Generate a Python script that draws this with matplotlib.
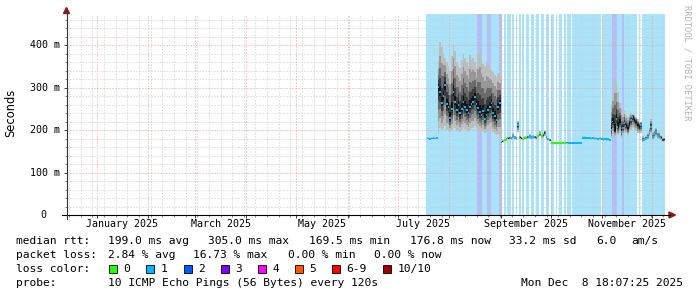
import matplotlib
matplotlib.use("Agg")
import matplotlib.pyplot as plt
import matplotlib.dates as mdates
import matplotlib.transforms as mtransforms
from matplotlib.patches import Rectangle, Polygon
from matplotlib.lines import Line2D
import numpy as np
import datetime as dt

# ---------------- data ----------------
data_start = dt.datetime(2025, 7, 18)   # first daily sample
view_start = dt.datetime(2024, 12, 14, 4, 7)
view_end = dt.datetime(2025, 12, 8, 18, 7)

# median rtt (ms), one value per day
median_ms = [
    180, 180, 179, 180, 181, 180, 181,
    302, 290, 263, 280, 306, 262, 255, 228, 250, 290, 265, 247, 258, 239,
    250, 267, 255, 247, 240, 255, 262, 267, 278, 262, 252, 242, 235, 245,
    227, 236, 247, 255, 263, 239, 232, 223, 255, 263,
    172, 173, 176, 178, 180, 181, 180, 186, 182, 180, 212, 182, 180, 179,
    181, 180, 183, 185, 182, 184, 183, 181, 186, 192, 185, 188, 194, 184,
    178, 176,
    170, 170, 170, 170, 170, 170, 170, 170, 170, 170, 170, 170, 170, 170,
    170, 170, 170, 170, 170,
    182, 182, 181, 181, 181, 180, 181, 180, 180, 179, 180, 179, 178, 179,
    178, 178, 176,
    200, 220, 200, 227, 208, 220, 196, 205, 216, 210, 204, 215, 223, 231,
    225, 220, 212, 208, 212, 176, 178, 180, 184, 195, 208, 184, 190, 196,
    186, 188, 182, 176, 178,
]
# slowest ping of the day (ms)
ping_max_ms = [
    183, 183, 182, 183, 184, 183, 184,
    360, 408, 395, 380, 370, 360, 350, 340, 375, 400, 385, 360, 350, 345,
    365, 380, 370, 360, 350, 377, 365, 370, 360, 345, 380, 388, 370, 355,
    350, 361, 355, 345, 340, 337, 330, 325, 335, 330,
    176, 177, 180, 182, 184, 185, 184, 192, 186, 184, 222, 186, 184, 183,
    185, 184, 187, 190, 186, 188, 187, 185, 190, 198, 189, 192, 198, 188,
    182, 180,
    172, 172, 172, 172, 172, 172, 172, 172, 172, 172, 172, 172, 172, 172,
    172, 172, 172, 172, 172,
    185, 185, 184, 184, 184, 183, 184, 183, 183, 182, 183, 182, 181, 182,
    181, 181, 179,
    260, 286, 322, 310, 290, 263, 250, 240, 245, 235, 230, 238, 240, 238,
    235, 230, 225, 220, 220, 185, 182, 185, 192, 205, 227, 195, 200, 205,
    195, 195, 188, 182, 182,
]
# fastest ping of the day (ms)
ping_min_ms = [
    178, 178, 178, 178, 178, 178, 178,
    190, 205, 200, 205, 210, 200, 198, 195, 200, 210, 205, 198, 200, 196,
    200, 205, 202, 198, 195, 200, 205, 205, 210, 205, 200, 196, 193, 198,
    192, 195, 198, 200, 202, 195, 190, 188, 190, 185,
    170, 171, 173, 175, 177, 178, 177, 180, 178, 177, 195, 178, 177, 176,
    178, 177, 179, 180, 178, 180, 179, 178, 181, 185, 180, 182, 186, 180,
    175, 173,
    168, 168, 168, 168, 168, 168, 168, 168, 168, 168, 168, 168, 168, 168,
    168, 168, 168, 168, 168,
    179, 179, 178, 178, 178, 177, 178, 177, 177, 176, 177, 176, 175, 176,
    175, 175, 173,
    182, 190, 185, 192, 188, 192, 182, 188, 195, 192, 188, 196, 200, 205,
    200, 198, 192, 190, 192, 172, 174, 176, 178, 185, 192, 178, 182, 186,
    180, 180, 177, 172, 174,
]
# highest packet loss of the day (pings of 10) -> background bars
loss_max = [
    1, 1, 1, 1, 1, 1, 1,
    1, 1, 1, 1, 1, 1, 1, 1, 1, 1, 1, 1, 1, 1,
    1, 1, 1, 1, 1, 1, 1, 1, 1, 1, 2, 2, 2, 1,
    1, 1, 2, 2, 1, 1, 1, 1, 1, 2,
    2, 0, 1, 0, 1, 1, 0, 1, 0, 1, 0, 1, 0, 1,
    0, 1, 1, 0, 1, 1, 0, 1, 1, 0, 1, 1, 0, 1,
    1, 0,
    1, 1, 0, 1, 0, 1, 1, 0, 1, 0, 1, 1, 0, 1,
    1, 1, 1, 1, 1,
    1, 1, 1, 1, 1, 1, 1, 1, 1, 1, 1, 0, 1, 1,
    1, 1, 1,
    1, 2, 2, 2, 1, 1, 1, 2, 1, 1, 1, 1, 1, 1,
    1, 1, 0, 1, 0, 1, 1, 1, 1, 1, 1, 1, 1, 1,
    1, 1, 1, 1, 1,
]
# average packet loss of the day -> colour of the median mark
loss_avg = [
    1, 1, 1, 1, 1, 1, 1,
    1, 1, 1, 1, 1, 1, 1, 1, 1, 1, 1, 1, 1, 1,
    1, 1, 1, 1, 1, 1, 1, 1, 1, 1, 1, 1, 1, 1,
    1, 1, 1, 1, 1, 1, 1, 1, 1, 1,
    1, 0, 0, 0, 0, 1, 1, 1, 1, 1, 1, 1, 0, 0,
    0, 0, 1, 1, 1, 1, 1, 0, 0, 0, 0, 0, 1, 1,
    1, 1,
    0, 0, 0, 0, 0, 0, 0, 0, 0, 0, 1, 1, 1, 1,
    1, 1, 1, 1, 1,
    1, 1, 1, 1, 1, 1, 1, 1, 1, 1, 1, 1, 1, 1,
    1, 1, 1,
    1, 1, 2, 1, 1, 2, 1, 1, 1, 1, 2, 1, 1, 1,
    2, 1, 0, 1, 1, 1, 1, 1, 1, 1, 1, 1, 1, 1,
    1, 1, 1, 0, 1,
]

y_ticks = [0, 100, 200, 300, 400]
y_tick_labels = ["0", "100 m", "200 m", "300 m", "400 m"]
month_labels = ["January 2025", "March 2025", "May 2025", "July 2025",
                "September 2025", "November 2025"]
month_label_dates = [(2025, 1), (2025, 3), (2025, 5), (2025, 7), (2025, 9), (2025, 11)]

loss_colors = ["#26ff00", "#00b8ff", "#0059ff", "#7e00ff", "#ff00ff",
               "#ff5500", "#ff0000", "#a10000"]
loss_names = ["0", "1", "2", "3", "4", "5", "6-9", "10/10"]
loss_bg_colors = {0: "#ffffff", 1: "#a9e3f9", 2: "#b4bdf7"}

stats_rtt = ["199.0 ms avg", "305.0 ms max", "169.5 ms min", "176.8 ms now",
             "33.2 ms sd", "6.0", "am/s"]
stats_loss = ["2.84 % avg", "16.73 % max", "0.00 % min", "0.00 % now"]

# ---------------- figure ----------------
W, H = 697, 297
L, R, T, B = 67, 665, 14, 215
fig = plt.figure(figsize=(W / 100, H / 100), dpi=100)
ax = fig.add_axes([L / W, 1 - B / H, (R - L) / W, (B - T) / H])
YMAX = 473
ax.set_xlim(mdates.date2num(view_start), mdates.date2num(view_end))
ax.set_ylim(0, YMAX)
for s in ax.spines.values():
    s.set_visible(False)

n = len(median_ms)
day0 = mdates.date2num(data_start)
x_edge = day0 + np.arange(n)
x_mid = x_edge + 0.5
med = np.array(median_ms, float)
hi = np.array(ping_max_ms, float)
lo = np.array(ping_min_ms, float)
lavg = np.array(loss_avg)

# loss background bars
bar_cols = [loss_bg_colors[v] for v in loss_max]
ax.bar(x_edge, YMAX, width=1.0, align="edge", color=bar_cols, linewidth=0, zorder=0.2)

# grid
ax.set_axisbelow(True)
months = [mdates.date2num(dt.datetime(2024 + (m > 12), (m - 1) % 12 + 1, 1)) for m in range(13, 25)]
weeks = []
wk = dt.datetime(2024, 12, 15, 12)
while wk < view_end:
    weeks.append(mdates.date2num(wk))
    wk += dt.timedelta(days=7)
ax.set_xticks(months)
ax.set_xticks(weeks, minor=True)
ax.set_xticklabels([])
ax.set_yticks(y_ticks)
ax.set_yticks(np.arange(0, YMAX, 20), minor=True)
ax.set_yticklabels([])
ax.grid(which="minor", color="#cccccc", linestyle=(0, (1, 2)), linewidth=0.72)
ax.grid(which="major", color="#eaa0a0", linestyle=(0, (1, 2)), linewidth=0.72)
ax.tick_params(which="major", direction="out", length=2.2, width=0.72, color="#444444")
ax.tick_params(which="minor", direction="out", length=1.2, width=0.72, color="#888888")

# smoke
bands = [(1.0, "#bdbdbd"), (0.72, "#979797"), (0.48, "#6a6a6a"), (0.28, "#3c3c3c"), (0.12, "#111111")]
for f, c in bands:
    ax.fill_between(x_mid, med - f * (med - lo), med + f * (hi - med),
                    step="mid", color=c, linewidth=0, zorder=2)
# median marks coloured by loss
dh = 2.3
for k in range(len(loss_colors)):
    m = lavg == k
    if m.any():
        ax.fill_between(x_mid, med - dh, med + dh, where=m, step="mid",
                        color=loss_colors[k], linewidth=0, zorder=3)

mono = "DejaVu Sans Mono"
# y tick labels
ytrans = mtransforms.blended_transform_factory(fig.transFigure, ax.transData)
for v, s in zip(y_ticks, y_tick_labels):
    xr = 60 if s.endswith("m") else 46
    fig.text(xr / W, v, s, ha="right", va="center", fontsize=7.2, family=mono,
             transform=ytrans)
# month labels
xtrans = mtransforms.blended_transform_factory(ax.transData, ax.transAxes)
for s, (yy, mm) in zip(month_labels, month_label_dates):
    a = mdates.date2num(dt.datetime(yy, mm, 1))
    b = mdates.date2num(dt.datetime(yy + (mm == 12), mm % 12 + 1, 1))
    ax.text((a + b) / 2, -9 / (B - T), s, ha="center", va="center", fontsize=7.2,
            family=mono, transform=xtrans)

def fx(x):
    return x / W

def fy(y):
    return 1 - y / H

# axes lines and arrows
fig.add_artist(Line2D([fx(62), fx(670)], [fy(215), fy(215)], color="#000000", linewidth=0.8))
fig.add_artist(Line2D([fx(66.5), fx(66.5)], [fy(219), fy(11)], color="#333333", linewidth=0.8))
arrow_c = "#8b1a1a"
fig.add_artist(Polygon([[fx(63.5), fy(13.5)], [fx(69.5), fy(13.5)], [fx(66.5), fy(7.5)]],
                       closed=True, color=arrow_c, transform=fig.transFigure))
fig.add_artist(Polygon([[fx(669), fy(212)], [fx(669), fy(218)], [fx(675.5), fy(215)]],
                       closed=True, color=arrow_c, transform=fig.transFigure))

# labels
fig.text(fx(11), fy(113), "Seconds", rotation=90, ha="center", va="center", fontsize=8.3,
         family="DejaVu Sans")
fig.text(fx(687.5), fy(5), "RRDTOOL / TOBI OETIKER", rotation=-90, ha="center", va="top",
         fontsize=6.3, family=mono, color="#b4b4b4")

fs = 8.1
r1, r2, r3, r4 = 241, 255, 269, 283
fig.text(fx(16), fy(r1), "median rtt:", ha="left", va="center", fontsize=fs, family=mono)
for s, x in zip(stats_rtt, [108, 208.5, 309, 410, 509, 596, 631]):
    fig.text(fx(x), fy(r1), s, ha="left", va="center", fontsize=fs, family=mono)
fig.text(fx(16), fy(r2), "packet loss:", ha="left", va="center", fontsize=fs, family=mono)
for s, x in zip(stats_loss, [108, 193, 288, 374]):
    fig.text(fx(x), fy(r2), s, ha="left", va="center", fontsize=fs, family=mono)
fig.text(fx(16), fy(r3), "loss color:", ha="left", va="center", fontsize=fs, family=mono)
for c, s, x in zip(loss_colors, loss_names, [109, 146, 184, 221, 258, 295, 332, 383]):
    fig.add_artist(Rectangle((fx(x), fy(r3 + 4)), 8 / W, 8 / H, facecolor=c,
                             edgecolor="#000000", linewidth=0.6, transform=fig.transFigure))
    fig.text(fx(x + 14.5), fy(r3), s, ha="left", va="center", fontsize=fs, family=mono)
fig.text(fx(16), fy(r4), "probe:", ha="left", va="center", fontsize=fs, family=mono)
fig.text(fx(108), fy(r4), "10 ICMP Echo Pings (56 Bytes) every 120s", ha="left", va="center",
         fontsize=fs, family=mono)
fig.text(fx(683), fy(r4), "Mon Dec  8 18:07:25 2025", ha="right", va="center",
         fontsize=fs, family=mono)

fig.savefig("out.png", dpi=100)
